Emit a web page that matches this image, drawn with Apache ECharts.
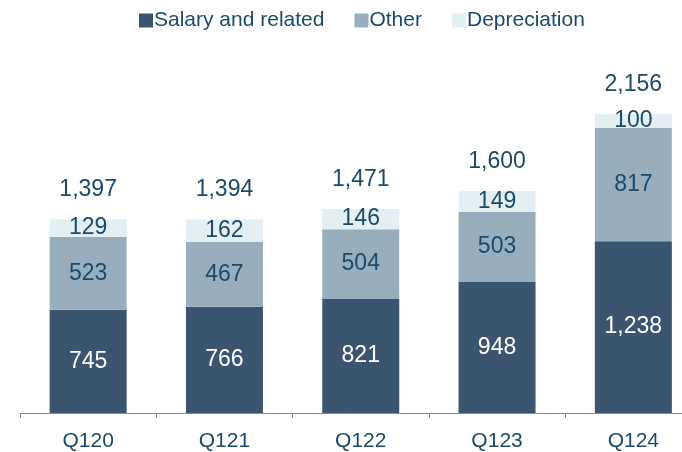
<!DOCTYPE html>
<html>
<head>
<meta charset="utf-8">
<script src="https://cdn.jsdelivr.net/npm/echarts@6/dist/echarts.min.js"></script>
<style>
  html, body { margin: 0; padding: 0; background: #ffffff; }
  #chart { width: 682px; height: 452px; }
</style>
</head>
<body>
<div id="chart"></div>
<script>
// Quarterly expense breakdown
const quarters = ['Q120', 'Q121', 'Q122', 'Q123', 'Q124'];
const salary = [745, 766, 821, 948, 1238];
const other = [523, 467, 504, 503, 817];
const depreciation = [129, 162, 146, 149, 100];
const totals = [1397, 1394, 1471, 1600, 2156];

const fmt = v => v.toLocaleString('en-US');
const textColor = '#1b4a6b';
const font = 'Liberation Sans, Arial, sans-serif';

const chart = echarts.init(document.getElementById('chart'));
chart.setOption({
  animation: false,
  textStyle: { fontFamily: font },
  legend: {
    top: 5,
    left: 134,
    itemWidth: 14,
    itemHeight: 14,
    itemGap: 30,
    icon: 'rect',
    textStyle: { fontSize: 21, color: textColor, fontFamily: font, padding: [0, 0, 0, -4] },
    data: ['Salary and related', 'Other', 'Depreciation']
  },
  grid: { left: 20, width: 681.5, top: 66.2, bottom: 39, containLabel: false, outerBoundsMode: 'none' },
  xAxis: {
    type: 'category',
    data: quarters,
    axisLine: { lineStyle: { color: '#8a8a8a', width: 1 } },
    axisTick: { show: true, length: 5, lineStyle: { color: '#8a8a8a' } },
    axisLabel: { fontSize: 21, color: textColor, margin: 18, fontFamily: font }
  },
  yAxis: {
    type: 'value',
    min: 0,
    max: 2500,
    show: false,
    splitLine: { show: false }
  },
  series: [
    {
      name: 'Salary and related',
      type: 'bar',
      stack: 'cost',
      barWidth: 77,
      data: salary,
      itemStyle: { color: '#3b546f' },
      label: { show: true, position: 'inside', color: '#ffffff', fontSize: 23, fontFamily: font, formatter: p => fmt(p.value) }
    },
    {
      name: 'Other',
      type: 'bar',
      stack: 'cost',
      data: other,
      itemStyle: { color: '#99aebd' },
      label: { show: true, position: 'inside', color: textColor, fontSize: 23, fontFamily: font, formatter: p => fmt(p.value) }
    },
    {
      name: 'Depreciation',
      type: 'bar',
      stack: 'cost',
      data: depreciation,
      itemStyle: { color: '#e4eff4' },
      label: { show: true, position: 'inside', color: textColor, fontSize: 23, fontFamily: font, formatter: p => fmt(p.value) }
    },
    {
      name: 'Total',
      type: 'bar',
      stack: 'cost',
      data: depreciation.map(() => 0),
      itemStyle: { color: 'transparent' },
      label: {
        show: true,
        position: 'top',
        distance: 18,
        color: textColor,
        fontSize: 23,
        fontFamily: font,
        formatter: p => fmt(totals[p.dataIndex])
      }
    }
  ]
});
</script>
</body>
</html>
